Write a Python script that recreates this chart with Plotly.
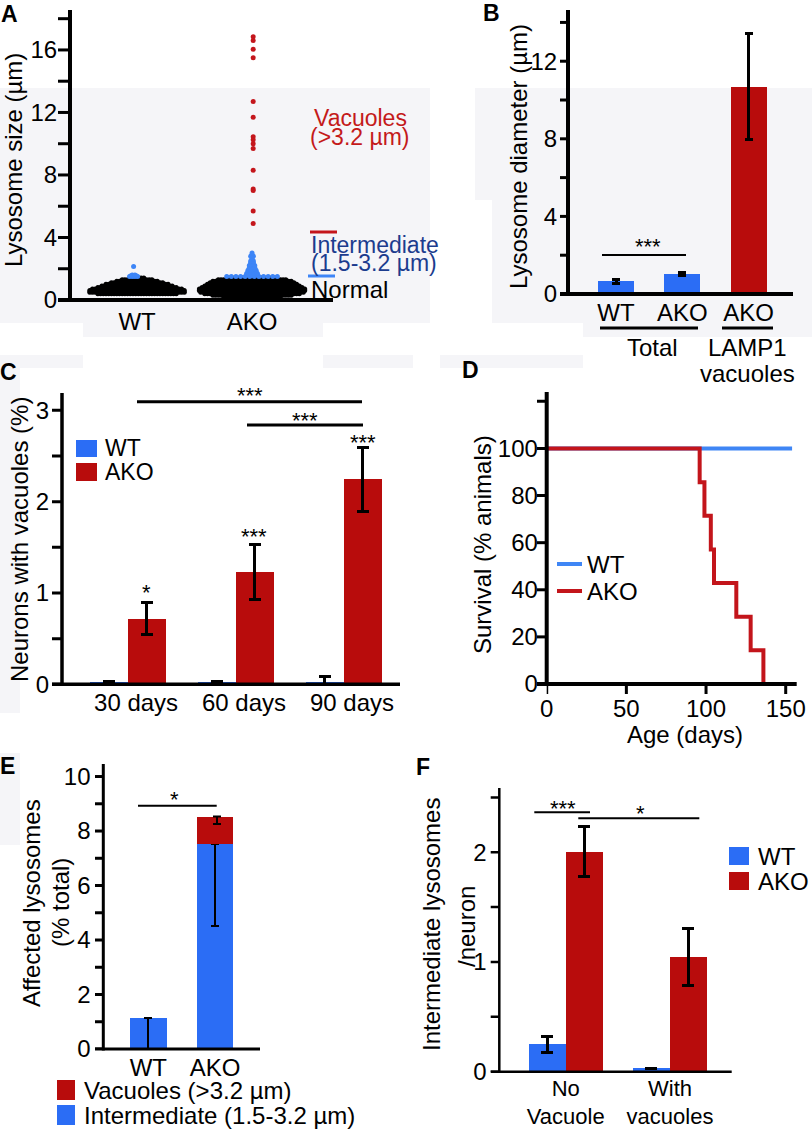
import plotly.graph_objects as go

W, H = 812, 1130
FONT = "Liberation Sans, Arial, Helvetica, sans-serif"
BAR_BLUE = "#2b6df5"
BAR_RED = "#b80c0c"
DOT_BLUE = "#3d85f7"
DOT_RED = "#c4161c"
LINE_BLUE = "#3f86f5"
LINE_RED = "#c3151b"
NAVY = "#1c3c8e"
GREY_BG = "#f5f5f8"
CLEAR = "rgba(0,0,0,0)"

# ---------------- data ----------------
# Panel A: lysosome sizes (um); normal/intermediate given as value bins with counts
A_GROUPS = ["WT", "AKO"]
A_WT_NORMAL_BINS = [0.4, 0.5, 0.6, 0.7, 0.8, 0.9, 1.0, 1.1, 1.2, 1.3, 1.4]
A_WT_NORMAL_COUNTS = [30, 36, 36, 34, 30, 27, 24, 20, 16, 12, 6]
A_AKO_NORMAL_BINS = [0.05, 0.1, 0.15, 0.2, 0.3, 0.4, 0.5, 0.6, 0.7, 0.8, 0.9, 1.0, 1.1, 1.2, 1.3, 1.4]
A_AKO_NORMAL_COUNTS = [3, 4, 5, 22, 30, 36, 39, 40, 40, 38, 36, 34, 32, 30, 26, 18]
A_WT_INTER_BINS = [1.5, 1.55, 1.6, 2.15]
A_WT_INTER_COUNTS = [4, 3, 2, 1]
A_AKO_INTER_BINS = [1.5, 1.6, 1.7, 1.8, 1.9, 2.0, 2.1, 2.2, 2.3, 2.4, 2.5, 2.6, 2.7, 2.8, 2.9, 3.0]
A_AKO_INTER_COUNTS = [12, 5, 5, 4, 4, 3, 3, 3, 2, 2, 2, 1, 1, 2, 1, 1]
A_AKO_VACUOLES = [16.85, 16.6, 16.05, 15.5, 12.7, 11.7, 10.45, 10.25, 10.0, 9.7, 8.3, 7.1, 7.0, 5.7, 4.9]
A_YTICKS = [0, 2, 4, 6, 8, 10, 12, 14, 16, 18]
A_YLABELS = ["0", "", "4", "", "8", "", "12", "", "16", ""]

# Panel B: lysosome diameter
B_LABELS = ["WT", "AKO", "AKO"]
B_MEANS = [0.65, 1.03, 10.68]
B_ERR = [0.1, 0.1, 2.74]
B_YTICKS = [0, 2, 4, 6, 8, 10, 12, 14]
B_YLABELS = ["0", "", "4", "", "8", "", "12", ""]

# Panel C: neurons with vacuoles (%)
C_AGES = ["30 days", "60 days", "90 days"]
C_WT = [0.02, 0.02, 0.03]
C_WT_ERR = [0.01, 0.01, 0.06]
C_AKO = [0.72, 1.23, 2.245]
C_AKO_ERR = [0.18, 0.30, 0.35]
C_YTICKS = [0, 0.5, 1, 1.5, 2, 2.5, 3]
C_YLABELS = ["0", "", "1", "", "2", "", "3"]

# Panel D: survival
D_WT_DAYS = [0, 154]
D_WT_SURV = [100, 100]
D_AKO_DAYS = [0, 96, 99, 103, 105, 119, 128, 136, 156]
D_AKO_SURV = [100, 85.7, 71.4, 57.1, 42.9, 28.6, 14.3, 0, 0]
D_XTICKS = [0, 50, 100, 150]
D_YTICKS = [0, 20, 40, 60, 80, 100, 120]
D_YLABELS = ["0", "20", "40", "60", "80", "100", ""]

# Panel E: affected lysosomes (% total)
E_GROUPS = ["WT", "AKO"]
E_INTER = [1.13, 7.53]
E_INTER_ERR_MINUS = [1.13, 3.03]
E_VAC = [0, 1.0]
E_VAC_ERR_MINUS = [0, 0.27]
E_YTICKS = list(range(0, 11))
E_YLABELS = ["0", "", "2", "", "4", "", "6", "", "8", "", "10"]

# Panel F: intermediate lysosomes / neuron
F_GROUPS = ["No<br>Vacuole", "With<br>vacuoles"]
F_WT = [0.25, 0.03]
F_WT_ERR = [0.075, 0.0]
F_AKO = [2.005, 1.048]
F_AKO_ERR = [0.23, 0.26]
F_YTICKS = [0, 0.5, 1, 1.5, 2, 2.5]
F_YLABELS = ["0", "", "1", "", "2", ""]


# ---------------- helpers ----------------
def px(x):
    return x / W


def py(y):
    return 1 - y / H


def swarm(bins, counts, center, spacing, wide_spacing=None):
    xs, ys = [], []
    for v, n in zip(bins, counts):
        s = wide_spacing if (wide_spacing and n > 8) else spacing
        for i in range(n):
            xs.append(center + (i - (n - 1) / 2) * s)
            ys.append(v)
    return xs, ys


shapes = []
annotations = []


def line(x0, y0, x1, y1, w=3, color="black"):
    shapes.append(dict(type="line", xref="paper", yref="paper", x0=px(x0), y0=py(y0),
                       x1=px(x1), y1=py(y1), line=dict(color=color, width=w)))


def rect(x0, y0, x1, y1, color, layer="above"):
    shapes.append(dict(type="rect", xref="paper", yref="paper", x0=px(x0), y0=py(y0),
                       x1=px(x1), y1=py(y1), fillcolor=color, line=dict(width=0), layer=layer))


def text(x, y, s, size=24, color="black", xanchor="center", yanchor="middle", angle=0):
    annotations.append(dict(xref="paper", yref="paper", x=px(x), y=py(y), text=s,
                            showarrow=False, xanchor=xanchor, yanchor=yanchor, textangle=angle,
                            font=dict(family=FONT, size=size, color=color)))


def draw_axes(yref, yticks, ax_x, ytop, ybot, x_left, x_right, tick_x0, lw, tw,
              xref=None, xticks=None, xtick_len=0):
    """Axis lines and tick marks drawn as filled shapes; ticks are placed through the axis scale."""
    rect(ax_x - lw / 2, ytop, ax_x + lw / 2, ybot + lw / 2, "black")
    rect(x_left, ybot - lw / 2, x_right, ybot + lw / 2, "black")
    for v in yticks:
        shapes.append(dict(type="rect", xref="paper", yref=yref, x0=px(tick_x0), x1=px(ax_x),
                           ysizemode="pixel", yanchor=v, y0=-tw / 2, y1=tw / 2,
                           fillcolor="black", line=dict(width=0)))
    if xticks:
        for v in xticks:
            shapes.append(dict(type="rect", xref=xref, yref="paper", xsizemode="pixel", xanchor=v,
                               x0=-tw / 2, x1=tw / 2, y0=py(ybot), y1=py(ybot + xtick_len),
                               fillcolor="black", line=dict(width=0)))


def yaxis_style(label_gap, size=24):
    return dict(showline=False, ticks="outside", ticklen=label_gap, tickcolor=CLEAR, tickwidth=1,
                showgrid=False, zeroline=False, tickfont=dict(family=FONT, size=size, color="black"))


def xaxis_style(standoff, size=24):
    return dict(showline=False, ticks="", showgrid=False, zeroline=False, ticklabelstandoff=standoff,
                tickfont=dict(family=FONT, size=size, color="black"))


# ---------------- background patches (scan artefacts) ----------------
for r in [(0, 88, 430, 323), (83, 323, 323, 337), (475, 88, 812, 200), (492, 200, 812, 323),
          (583, 323, 812, 337), (0, 355, 83, 368), (323, 355, 413, 368), (440, 355, 583, 368),
          (0, 368, 20, 713), (0, 753, 20, 845)]:
    rect(*r, GREY_BG, layer="below")

fig = go.Figure()

# ---------------- Panel A ----------------
A_PX_PER_UNIT = 115.0
sp = 2.7 / A_PX_PER_UNIT
for gi, (bins, counts) in enumerate([(A_WT_NORMAL_BINS, A_WT_NORMAL_COUNTS),
                                     (A_AKO_NORMAL_BINS, A_AKO_NORMAL_COUNTS)]):
    xs, ys = swarm(bins, counts, gi + 1, sp)
    fig.add_trace(go.Scatter(x=xs, y=ys, mode="markers", xaxis="x", yaxis="y",
                             marker=dict(color="black", size=5, line=dict(width=0)), cliponaxis=False))
for gi, (bins, counts) in enumerate([(A_WT_INTER_BINS, A_WT_INTER_COUNTS),
                                     (A_AKO_INTER_BINS, A_AKO_INTER_COUNTS)]):
    xs, ys = swarm(bins, counts, gi + 1 - (0.03 if gi == 0 else 0), sp, wide_spacing=4.6 / A_PX_PER_UNIT)
    fig.add_trace(go.Scatter(x=xs, y=ys, mode="markers", xaxis="x", yaxis="y",
                             marker=dict(color=DOT_BLUE, size=5, line=dict(width=0))))
fig.add_trace(go.Scatter(x=[2.01] * len(A_AKO_VACUOLES), y=A_AKO_VACUOLES, mode="markers",
                         xaxis="x", yaxis="y", marker=dict(color=DOT_RED, size=5, line=dict(width=0))))

# ---------------- Panel B ----------------
fig.add_trace(go.Bar(x=list(range(len(B_MEANS))), y=B_MEANS, width=0.545, xaxis="x2", yaxis="y2",
                     marker=dict(color=[BAR_BLUE, BAR_BLUE, BAR_RED], line=dict(width=0)),
                     error_y=dict(type="data", array=B_ERR, color="black", thickness=3, width=4)))

# ---------------- Panel C ----------------
CW = 0.352
fig.add_trace(go.Bar(x=list(range(3)), y=C_WT, width=CW, offset=-CW, xaxis="x3", yaxis="y3",
                     marker=dict(color=BAR_BLUE, line=dict(width=0)),
                     error_y=dict(type="data", array=C_WT_ERR, color="black", thickness=3, width=6)))
fig.add_trace(go.Bar(x=list(range(3)), y=C_AKO, width=CW, offset=0, xaxis="x3", yaxis="y3",
                     marker=dict(color=BAR_RED, line=dict(width=0)),
                     error_y=dict(type="data", array=C_AKO_ERR, color="black", thickness=3, width=6)))

# ---------------- Panel D ----------------
fig.add_trace(go.Scatter(x=D_WT_DAYS, y=D_WT_SURV, mode="lines", line=dict(color=LINE_BLUE, width=4, shape="hv"),
                         xaxis="x4", yaxis="y4", cliponaxis=False))
fig.add_trace(go.Scatter(x=D_AKO_DAYS, y=D_AKO_SURV, mode="lines", line=dict(color=LINE_RED, width=4, shape="hv"),
                         xaxis="x4", yaxis="y4", cliponaxis=False))

# ---------------- Panel E ----------------
EW = 0.55
fig.add_trace(go.Bar(x=list(range(2)), y=E_INTER, width=EW, xaxis="x5", yaxis="y5",
                     marker=dict(color=BAR_BLUE, line=dict(width=0)),
                     error_y=dict(type="data", symmetric=False, array=[0, 0], arrayminus=E_INTER_ERR_MINUS,
                                  color="black", thickness=2, width=4)))
fig.add_trace(go.Bar(x=list(range(2)), y=E_VAC, base=E_INTER, width=EW, xaxis="x5", yaxis="y5",
                     marker=dict(color=BAR_RED, line=dict(width=0))))
e_top = [a + b for a, b in zip(E_INTER, E_VAC)]
fig.add_trace(go.Scatter(x=[1.03], y=[e_top[1]], mode="markers", marker=dict(size=1, opacity=0),
                         xaxis="x5", yaxis="y5",
                         error_y=dict(type="data", symmetric=False, array=[0], arrayminus=[E_VAC_ERR_MINUS[1]],
                                      color="black", thickness=2, width=4)))

# ---------------- Panel F ----------------
FW = 0.355
fig.add_trace(go.Bar(x=list(range(2)), y=F_WT, width=FW, offset=-FW, xaxis="x6", yaxis="y6",
                     marker=dict(color=BAR_BLUE, line=dict(width=0)),
                     error_y=dict(type="data", array=F_WT_ERR, color="black", thickness=3, width=6)))
fig.add_trace(go.Bar(x=list(range(2)), y=F_AKO, width=FW, offset=0, xaxis="x6", yaxis="y6",
                     marker=dict(color=BAR_RED, line=dict(width=0)),
                     error_y=dict(type="data", array=F_AKO_ERR, color="black", thickness=3, width=6)))

# ---------------- axes ----------------
lay = dict(
    xaxis=dict(xaxis_style(5), domain=[px(70), px(333)], range=[0.417, 2.704], anchor="y",
               tickvals=[1, 2], ticktext=A_GROUPS),
    yaxis=dict(yaxis_style(7), domain=[py(300), py(14)], range=[0, 18.3], anchor="x",
               tickvals=A_YTICKS, ticktext=A_YLABELS),
    xaxis2=dict(xaxis_style(2), domain=[px(568), px(793)], range=[-0.7245, 2.67], anchor="y2",
                tickvals=[0, 1, 2], ticktext=B_LABELS),
    yaxis2=dict(yaxis_style(5), domain=[py(294), py(10)], range=[0, 14.64], anchor="x2",
                tickvals=B_YTICKS, ticktext=B_YLABELS),
    xaxis3=dict(xaxis_style(2), domain=[px(62), px(400)], range=[-0.611, 2.52], anchor="y3",
                tickvals=[i + 0.075 for i in range(3)], ticktext=C_AGES),
    yaxis3=dict(yaxis_style(7), domain=[py(684.3), py(393.3)], range=[0, 3.187], anchor="x3",
                tickvals=C_YTICKS, ticktext=C_YLABELS),
    xaxis4=dict(xaxis_style(8), domain=[px(546.7), px(796.7)], range=[0, 156.9], anchor="y4",
                tickvals=D_XTICKS),
    yaxis4=dict(yaxis_style(3), domain=[py(684), py(391.7)], range=[0, 124.1], anchor="x4",
                tickvals=D_YTICKS, ticktext=D_YLABELS),
    xaxis5=dict(xaxis_style(2, 24), domain=[px(103.3), px(260)], range=[-0.675, 1.675], anchor="y5",
                tickvals=[0, 1], ticktext=E_GROUPS),
    yaxis5=dict(yaxis_style(7), domain=[py(1049), py(764)], range=[0, 10.46], anchor="x5",
                tickvals=E_YTICKS, ticktext=E_YLABELS),
    xaxis6=dict(xaxis_style(1, 22), domain=[px(499.3), px(731.7)], range=[-0.637, 1.592], anchor="y6",
                tickvals=[0, 1], ticktext=F_GROUPS),
    yaxis6=dict(yaxis_style(7), domain=[py(1071.7), py(788.3)], range=[0, 2.583], anchor="x6",
                tickvals=F_YTICKS, ticktext=F_YLABELS),
)

# axis lines + ticks
draw_axes("y", A_YTICKS, 70, 10, 300, 58, 333, 58, 4, 3)
draw_axes("y2", B_YTICKS, 568, 10, 294, 560, 793, 560, 4, 3)
draw_axes("y3", C_YTICKS, 62, 393, 684.3, 52, 400, 52, 3.5, 3)
draw_axes("y4", D_YTICKS, 546.7, 392, 684, 537, 796.7, 537, 4, 3, xref="x4", xticks=D_XTICKS, xtick_len=10)
draw_axes("y5", E_YTICKS, 103.3, 764, 1049, 95, 260, 95, 3, 3)
draw_axes("y6", F_YTICKS, 499.3, 788, 1071.7, 490.7, 731.7, 490.7, 2.5, 2.5)

# ---------------- annotations: panel letters ----------------
for L, x, y in [("A", 9, 14), ("B", 491, 13), ("C", 8, 372), ("D", 470, 370), ("E", 7, 766), ("F", 423, 767)]:
    text(x, y, "<b>%s</b>" % L, size=23)

# axis titles
text(13, 160, "Lysosome size (µm)", angle=-90)
text(518, 157, "Lysosome diameter (µm)", angle=-90)
text(19, 540, "Neurons with vacuoles (%)", angle=-90)
text(482, 545, "Survival (% animals)", angle=-90)
text(685, 734, "Age (days)")
text(31, 903, "Affected lysosomes", angle=-90)
text(60, 903, "(% total)", angle=-90)
text(431, 925, "Intermediate lysosomes", angle=-90)
text(466, 927, "/neuron", angle=-90)

# Panel A category annotations
text(360, 118, "Vacuoles", size=23, color="#c41a1a")
text(360, 137, "(>3.2 µm)", size=23, color="#c41a1a")
line(310, 232, 337, 232, 3, DOT_RED)
text(309, 245, "Intermediate", size=23, color=NAVY, xanchor="left")
text(309, 263, "(1.5-3.2 µm)", size=23, color=NAVY, xanchor="left")
line(308, 276, 335, 276, 3, DOT_BLUE)
text(309, 289, "Normal", xanchor="left")

# Panel B brackets
line(602, 255, 686, 255, 2)
text(648, 247, "***", size=22)
line(600, 328, 698, 328, 3)
line(722, 328, 773, 328, 3)
text(652, 347, "Total")
text(747, 347, "LAMP1")
text(747, 373, "vacuoles")

# Panel C significance + legend
line(137, 401.7, 362, 401.7, 3)
text(250, 396, "***", size=22)
line(247, 425, 363, 425, 3)
text(305, 420, "***", size=22)
text(363, 442, "***", size=22)
text(254, 537, "***", size=22)
text(146, 592, "*", size=22)
rect(76, 440, 97, 457, BAR_BLUE)
rect(76, 463, 97, 481, BAR_RED)
text(103, 448, "WT", size=23, xanchor="left")
text(103, 472, "AKO", size=23, xanchor="left")

# Panel D legend
line(557, 564, 582, 564, 4, LINE_BLUE)
line(557, 591, 582, 591, 4, LINE_RED)
text(585, 564, "WT", xanchor="left")
text(585, 591, "AKO", xanchor="left")

# Panel E significance + legend
line(138, 805.7, 216.7, 805.7, 2)
text(174, 799, "*", size=22)
rect(57, 1080, 75, 1100, BAR_RED)
rect(57, 1105, 75, 1125, BAR_BLUE)
text(82, 1090, "Vacuoles (>3.2 µm)", size=24, xanchor="left")
text(82, 1115, "Intermediate (1.5-3.2 µm)", size=24, xanchor="left")

# Panel F significance + legend
line(534.3, 812.3, 590, 812.3, 2)
text(562.7, 808, "***", size=22)
line(578.3, 818.3, 699.3, 818.3, 2)
text(640.7, 813.5, "*", size=22)
rect(729, 847, 749, 865, BAR_BLUE)
rect(729, 872, 749, 890, BAR_RED)
text(756, 856, "WT", xanchor="left")
text(756, 881, "AKO", xanchor="left")

fig.update_layout(
    template="none",
    width=W, height=H, margin=dict(l=0, r=0, t=0, b=0, pad=0),
    paper_bgcolor="white", plot_bgcolor="rgba(0,0,0,0)",
    showlegend=False, barmode="overlay", bargap=0,
    font=dict(family=FONT, size=24, color="black"),
    shapes=shapes, annotations=annotations, **lay)

fig.write_html("out.html", config={"displayModeBar": False, "staticPlot": True},
               post_script="document.body.style.margin='0';document.body.style.padding='0';")
